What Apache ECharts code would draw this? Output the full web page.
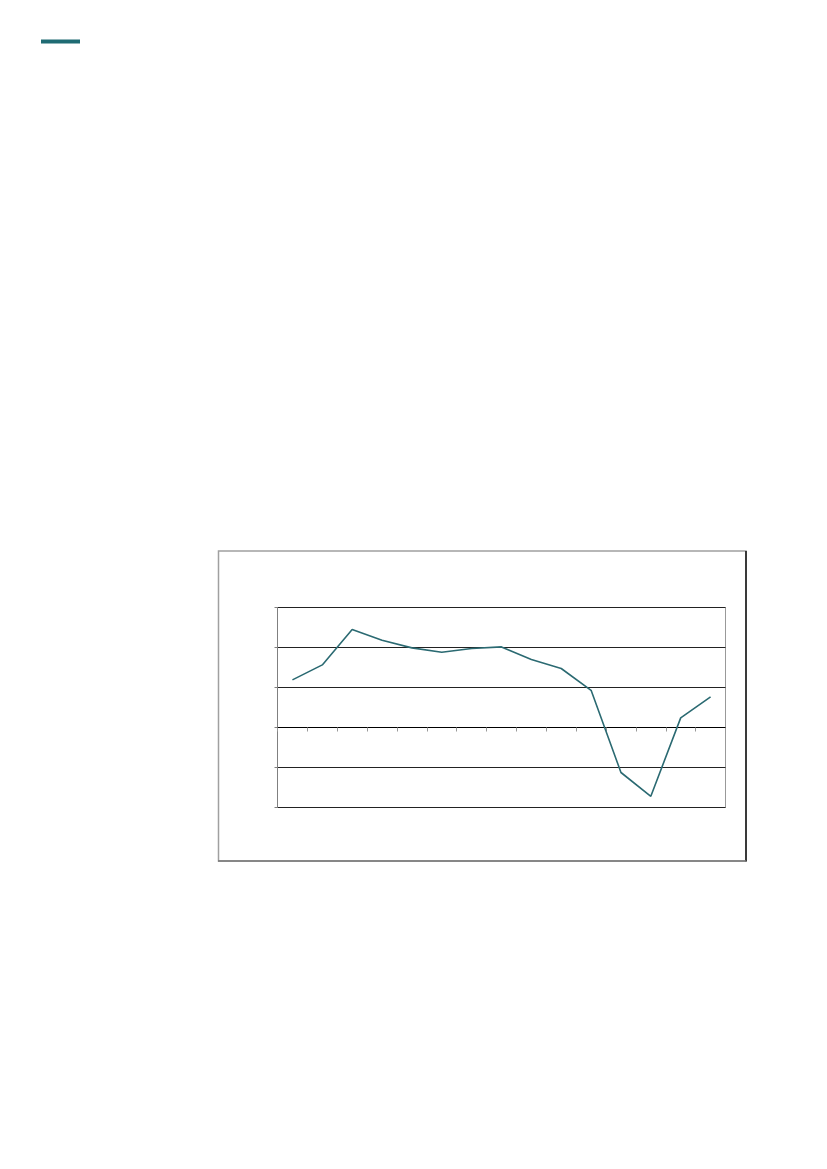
<!DOCTYPE html>
<html>
<head>
<meta charset="utf-8">
<script src="https://cdn.jsdelivr.net/npm/echarts@6/dist/echarts.min.js"></script>
<style>
  html, body { margin: 0; padding: 0; background: #fff; }
  #chart-wrapper { width: 827px; height: 1169px; }
</style>
</head>
<body>
<div id="chart-wrapper"></div>
<script>
// 15 periods, no labels shown in the original
var periods = ["1", "2", "3", "4", "5", "6", "7", "8", "9", "10", "11", "12", "13", "14", "15"];
var values = [1.19, 1.565, 2.45, 2.18, 1.99, 1.88, 1.975, 2.015, 1.70, 1.475, 0.93, -1.125, -1.72, 0.24, 0.765];
var yMin = -2;
var yMax = 3;
var yStep = 1;

var chartDom = document.getElementById("chart-wrapper");
var myChart = echarts.init(chartDom, null, { renderer: "canvas" });

var option = {
  animation: false,
  backgroundColor: "#fff",
  grid: {
    left: 277.5,
    top: 607.5,
    width: 448,
    height: 200,
    show: true,
    borderColor: "#999",
    borderWidth: 1
  },
  graphic: [
    // teal mark in page corner
    { type: "rect", shape: { x: 41, y: 39.5, width: 39, height: 4 }, style: { fill: "#1f6b73" } },
    // chart frame
    { type: "rect", shape: { x: 218.5, y: 551, width: 527.5, height: 310 }, style: { fill: null, stroke: "#a0a0a0", lineWidth: 1.5 } },
    { type: "line", shape: { x1: 746, y1: 551, x2: 746, y2: 861.5 }, style: { stroke: "#111", lineWidth: 1.5 } },
    { type: "line", shape: { x1: 218, y1: 861, x2: 746, y2: 861 }, style: { stroke: "#777", lineWidth: 1.5 } }
  ],
  xAxis: {
    type: "category",
    data: periods,
    boundaryGap: true,
    axisLine: { onZero: true, lineStyle: { color: "#000", width: 1 } },
    axisTick: { show: true, inside: false, length: 4, lineStyle: { color: "#999" } },
    axisLabel: { show: false },
    splitLine: { show: false }
  },
  yAxis: {
    type: "value",
    min: yMin,
    max: yMax,
    interval: yStep,
    axisLine: { show: true, lineStyle: { color: "#808080", width: 1 } },
    axisTick: { show: true, length: 3, lineStyle: { color: "#808080" } },
    axisLabel: { show: false },
    splitLine: { show: true, lineStyle: { color: "#222", width: 1 } }
  },
  series: [
    {
      type: "line",
      data: values,
      showSymbol: false,
      symbol: "none",
      lineStyle: { color: "#2b6a72", width: 1.6 },
      z: 5
    }
  ]
};

option && myChart.setOption(option);
</script>
</body>
</html>
